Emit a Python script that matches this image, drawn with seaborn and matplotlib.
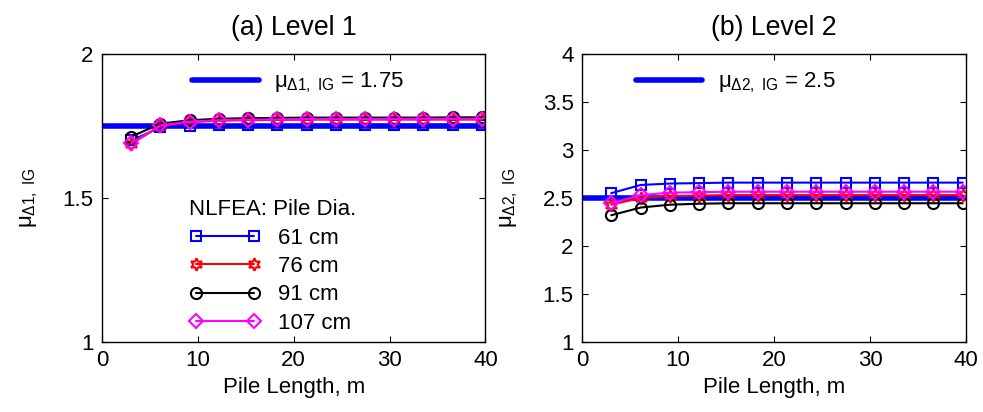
import matplotlib
matplotlib.use('Agg')
import pandas as pd
import matplotlib.pyplot as plt
import seaborn as sns

# pile lengths (10 ft steps), m
pile_length = [3.05, 6.10, 9.14, 12.19, 15.24, 18.29, 21.34, 24.38, 27.43, 30.48, 33.53, 36.58, 39.62]
dia_labels = ['61 cm', '76 cm', '91 cm', '107 cm']

# level 1 mean values
lvl1_61 = [1.700, 1.745, 1.750, 1.752, 1.753, 1.753, 1.754, 1.754, 1.754, 1.754, 1.754, 1.754, 1.754]
lvl1_76 = [1.688, 1.750, 1.763, 1.768, 1.770, 1.771, 1.772, 1.772, 1.772, 1.772, 1.772, 1.772, 1.772]
lvl1_91 = [1.713, 1.758, 1.770, 1.775, 1.777, 1.778, 1.779, 1.779, 1.779, 1.779, 1.779, 1.780, 1.780]
lvl1_107 = [1.690, 1.752, 1.765, 1.770, 1.772, 1.773, 1.774, 1.774, 1.774, 1.774, 1.775, 1.775, 1.775]
lvl1_ig = 1.75

# level 2 mean values
lvl2_61 = [2.550, 2.635, 2.650, 2.655, 2.660, 2.660, 2.660, 2.660, 2.660, 2.660, 2.660, 2.660, 2.660]
lvl2_76 = [2.430, 2.500, 2.520, 2.525, 2.530, 2.530, 2.530, 2.530, 2.530, 2.530, 2.530, 2.530, 2.530]
lvl2_91 = [2.320, 2.400, 2.430, 2.440, 2.445, 2.445, 2.445, 2.445, 2.445, 2.445, 2.445, 2.445, 2.445]
lvl2_107 = [2.445, 2.530, 2.555, 2.560, 2.565, 2.565, 2.565, 2.565, 2.565, 2.565, 2.565, 2.565, 2.565]
lvl2_ig = 2.5

colors = ['#0000ff', '#ff0000', '#000000', '#ff00ff']
markers = ['s', (6, 1, 0), 'o', 'D']
msizes = [7, 9, 8, 7]


def set_plt_params():
    sns.set_style('ticks')
    plt.rcParams['font.family'] = ['Liberation Sans', 'DejaVu Sans']
    plt.rcParams['mathtext.fontset'] = 'custom'
    plt.rcParams['mathtext.rm'] = 'Liberation Sans'
    plt.rcParams['mathtext.it'] = 'Liberation Sans'
    plt.rcParams['mathtext.sf'] = 'Liberation Sans'
    plt.rcParams['font.size'] = 16
    for k in ['text.color', 'axes.labelcolor', 'xtick.color', 'ytick.color', 'axes.edgecolor']:
        plt.rcParams[k] = 'black'
    plt.rcParams['xtick.direction'] = 'in'
    plt.rcParams['ytick.direction'] = 'in'
    plt.rcParams['xtick.major.size'] = 4
    plt.rcParams['ytick.major.size'] = 4
    plt.rcParams['axes.linewidth'] = 1.0
    plt.rcParams['xtick.top'] = True
    plt.rcParams['ytick.right'] = True


def panel(ax, series, ig, sub, ylim, yticks, title, show_legend):
    df = pd.DataFrame({'x': pile_length * 4,
                       'y': sum(series, []),
                       'dia': sum([[d] * len(pile_length) for d in dia_labels], [])})
    handles = []
    for i, d in enumerate(dia_labels):
        sns.lineplot(data=df[df['dia'] == d], x='x', y='y', ax=ax, color=colors[i],
                     marker=markers[i], markersize=msizes[i], mfc='none', mec=colors[i],
                     mew=1.5, lw=1.5, label=d, legend=False)
        handles.append(ax.lines[-1])
    hl = ax.axhline(ig, color='#0000ff', lw=4, zorder=1,
                    label=r'$\mu_{\Delta %s,\ \mathrm{IG}}$ = %s' % (sub, ig))

    ax.set_xlim(0, 40)
    ax.set_ylim(*ylim)
    ax.set_xticks([0, 10, 20, 30, 40])
    ax.set_yticks(yticks)
    ax.set_yticklabels([f'{t:g}' for t in yticks])
    ax.set_xlabel('Pile Length, m', labelpad=4)
    ax.set_ylabel(r'$\mu_{\Delta %s,\ \mathrm{IG}}$' % sub, labelpad=16)
    ax.set_title(title, pad=14)
    ax.tick_params(labelsize=16, pad=6)

    leg1 = ax.legend(handles=[hl], loc='center left',
                     bbox_to_anchor=(0.235 if sub == '1' else 0.14, 0.90),
                     frameon=False, handlelength=3.0, handletextpad=0.7, fontsize=16,
                     borderaxespad=0, borderpad=0)
    if show_legend:
        ax.add_artist(leg1)
        ax.legend(handles=handles, loc='upper left', bbox_to_anchor=(0.228, 0.495),
                  frameon=False, title='NLFEA: Pile Dia.', title_fontsize=16,
                  fontsize=16, numpoints=2, handlelength=3.2, labelspacing=0.33,
                  handletextpad=0.8, borderaxespad=0, borderpad=0, alignment='left')


set_plt_params()
fig = plt.figure(figsize=(9.83, 4.12), dpi=100)
ax1 = fig.add_axes([0.1038, 0.170, 0.390, 0.699])
ax2 = fig.add_axes([0.592, 0.170, 0.391, 0.699])

panel(ax1, [lvl1_61, lvl1_76, lvl1_91, lvl1_107], lvl1_ig, '1', (1, 2), [1, 1.5, 2],
      '(a) Level 1', True)
panel(ax2, [lvl2_61, lvl2_76, lvl2_91, lvl2_107], lvl2_ig, '2', (1, 4),
      [1, 1.5, 2, 2.5, 3, 3.5, 4], '(b) Level 2', False)

fig.savefig('out.png', dpi=100)
